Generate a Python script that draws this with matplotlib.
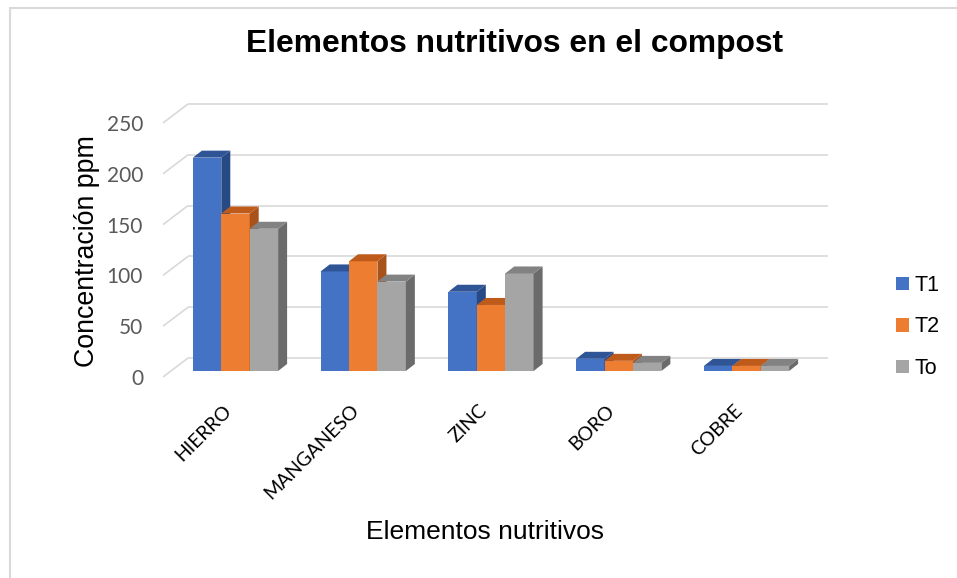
import matplotlib
matplotlib.use("Agg")
import matplotlib.pyplot as plt
from matplotlib.patches import Polygon, Rectangle

# Data
elements = ["HIERRO", "MANGANESO", "ZINC", "BORO", "COBRE"]
series_names = ["T1", "T2", "To"]
t1 = [210, 98, 78, 12, 5]
t2 = [155, 108, 65, 10, 5]
to = [140, 88, 96, 8, 5]
y_ticks = [0, 50, 100, 150, 200, 250]

front_colors = ["#4472C4", "#ED7D31", "#A5A5A5"]
top_colors = ["#2F5597", "#BE5B1B", "#828282"]
side_colors = ["#274A86", "#A9531C", "#6B6B6B"]

W, H = 957, 578
fig = plt.figure(figsize=(W / 100, H / 100), dpi=100)

# pixel geometry of the plot area
PX_X = 127.75          # px per category
PX_Y = 1.016           # px per value unit
X0_PX = 235.5          # px of first group center
Y0_PX = 371.0          # px of bar baseline
left_px, right_px, top_px, bot_px = 150, 840, 90, 395

ax = fig.add_axes([left_px / W, 1 - bot_px / H,
                   (right_px - left_px) / W, (bot_px - top_px) / H])
ax.set_xlim((left_px - X0_PX) / PX_X, (right_px - X0_PX) / PX_X)
ax.set_ylim((Y0_PX - bot_px) / PX_Y, (Y0_PX - top_px) / PX_Y)
for s in ax.spines.values():
    s.set_visible(False)

# depth offsets (data units)
fx, fy = -8 / PX_X, -6 / PX_Y        # front plane relative to bars
bx, by = 17 / PX_X, 13 / PX_Y        # back wall relative to bars
dx, dy = 9 / PX_X, 7 / PX_Y          # bar depth
wall_left = (163 - X0_PX) / PX_X - fx
wall_right = (828 - X0_PX) / PX_X

grid_c = "#D9D9D9"
for v in y_ticks:
    ax.plot([wall_left + fx, wall_left + bx], [v + fy, v + by],
            color=grid_c, lw=1.2, zorder=1, solid_capstyle="butt")
    ax.plot([wall_left + bx, wall_right], [v + by, v + by],
            color=grid_c, lw=1.2, zorder=1, solid_capstyle="butt")

ax.set_yticks([v + fy for v in y_ticks], [str(v) for v in y_ticks])
ax.tick_params(axis="y", length=0, pad=5, labelsize=15, labelcolor="#595959")
for lab in ax.get_yticklabels():
    lab.set_fontfamily("Lato")

bw = 28.4 / PX_X
values = [t1, t2, to]
handles = []
for i in range(len(elements)):
    for k, vals in enumerate(values):
        xc = i + (k - 1) * bw
        v = vals[i]
        z = 3 + i * 3 + k
        b = ax.bar(xc, v, width=bw, color=front_colors[k], zorder=z)
        if i == 0:
            handles.append(b)
        xr = xc + bw / 2
        xl = xc - bw / 2
        ax.add_patch(Polygon([(xr, 0), (xr + dx, dy), (xr + dx, v + dy), (xr, v)],
                             closed=True, facecolor=side_colors[k], edgecolor="none",
                             zorder=z))
        ax.add_patch(Polygon([(xl, v), (xl + dx, v + dy), (xr + dx, v + dy), (xr, v)],
                             closed=True, facecolor=top_colors[k], edgecolor="none",
                             zorder=z))

label_shift = 7 / PX_X
ax.set_xticks([i - label_shift for i in range(len(elements))], elements,
              rotation=45, ha="right", va="center", rotation_mode="anchor")
ax.tick_params(axis="x", length=0, pad=9, labelsize=14, labelcolor="#000000")
for lab in ax.get_xticklabels():
    lab.set_fontfamily("Lato")

fig.text(515 / W, 1 - 44 / H, "Elementos nutritivos en el compost",
         ha="center", va="center", fontsize=22.9, fontweight="bold",
         family="Liberation Sans")
fig.text(87 / W, 1 - 251 / H, "Concentración ppm", rotation=90,
         ha="center", va="center", fontsize=19.3, family="Liberation Sans")
fig.text(485 / W, 1 - 532 / H, "Elementos nutritivos",
         ha="center", va="center", fontsize=19, family="Liberation Sans")

leg = fig.legend(handles=handles, labels=series_names, loc="center left",
                 bbox_to_anchor=(877 / W, 1 - 327 / H), frameon=False,
                 handlelength=0.6, handleheight=0.6, handletextpad=0.25,
                 labelspacing=0.95, prop={"family": "Liberation Sans", "size": 15.5})

fig.patches.append(Rectangle((10 / W, -0.05), 1.1, 1.05 - 7.5 / H,
                             transform=fig.transFigure, fill=False,
                             edgecolor="#D9D9D9", lw=1.5))

fig.savefig("out.png", dpi=100)
